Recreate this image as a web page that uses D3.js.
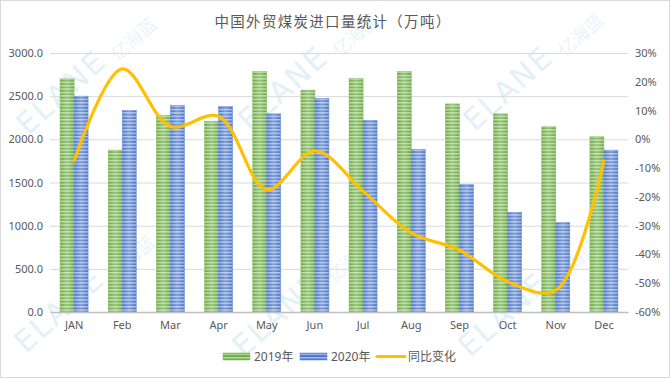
<!DOCTYPE html>
<html><head><meta charset="utf-8">
<script src="https://cdn.jsdelivr.net/npm/d3@7"></script>
<style>body{margin:0;background:#fff}svg{display:block}</style>
</head><body>
<svg id="c" width="670" height="380"></svg>
<script>
const months = ["JAN","Feb","Mar","Apr","May","Jun","Jul","Aug","Sep","Oct","Nov","Dec"];
const series2019 = [2700,1875,2280,2210,2785,2570,2705,2785,2410,2295,2145,2030];
const series2020 = [2500,2335,2395,2380,2295,2475,2220,1885,1475,1155,1035,1875];
const yoyChange = [-7.5,24.5,4.5,8,-17.5,-4,-18,-32.5,-38.5,-49.5,-52.5,-7.5];
const leftTicks = [0,500,1000,1500,2000,2500,3000];
const rightTicks = [-60,-50,-40,-30,-20,-10,0,10,20,30];
const seriesNames = ["2019年","2020年","同比变化"];
const title = "中国外贸煤炭进口量统计（万吨）";

const svg = d3.select("#c");
const W = 670, H = 380;
const m = {l:50, r:628, t:53, b:312};
const txt = "#595959";
const font = "'Noto Sans', 'Noto Sans CJK SC', sans-serif";

// defs
const defs = svg.append("defs");
function stripe(id, base, light){
  const p = defs.append("pattern").attr("id",id).attr("patternUnits","userSpaceOnUse")
    .attr("width",4).attr("height",3.4);
  p.append("rect").attr("width",4).attr("height",3.4).attr("fill",base);
  p.append("rect").attr("width",4).attr("y",0).attr("height",1.4).attr("fill",light);
}
stripe("pg","#6aa943","#b9dca0");
stripe("pb","#4a74c6","#a9bfe8");
const g = defs.append("linearGradient").attr("id","sheen").attr("x1",0).attr("x2",1).attr("y1",0).attr("y2",0);
g.append("stop").attr("offset","0").attr("stop-color","#fff").attr("stop-opacity",0);
g.append("stop").attr("offset","0.5").attr("stop-color","#fff").attr("stop-opacity",0.3);
g.append("stop").attr("offset","1").attr("stop-color","#fff").attr("stop-opacity",0);

// border
svg.append("rect").attr("x",0.5).attr("y",0.5).attr("width",W-1).attr("height",H-3)
  .attr("fill","#fff").attr("stroke","#d9d9d9");

// watermarks (faint)
const wm = svg.append("g").attr("fill","#e2f1f7");
const wmPos = [[68,100],[290,96],[515,96],[66,318],[284,322],[510,322]];
wmPos.forEach(([x,y])=>{
  wm.append("text").attr("transform",`translate(${x},${y}) rotate(-42)`).attr("font-size",30)
    .attr("font-family","'DejaVu Sans', sans-serif").attr("letter-spacing",2)
    .attr("text-anchor","middle").text("ELANE");
  wm.append("text").attr("transform",`translate(${x+70},${y-56}) rotate(-42)`).attr("font-size",18)
    .attr("font-family","'Noto Sans CJK SC'").attr("font-weight",300)
    .attr("text-anchor","middle").text("亿海蓝");
});

const x = d3.scaleBand().domain(months).range([m.l,m.r]).paddingInner(0).paddingOuter(0);
const x1 = d3.scaleBand().domain([0,1]).range([0,x.bandwidth()]).paddingInner(0).paddingOuter(0.72);
const y = d3.scaleLinear().domain([0,3000]).range([m.b,m.t]);
const y2 = d3.scaleLinear().domain([-60,30]).range([m.b,m.t]);

// gridlines
svg.append("g").selectAll("line").data(leftTicks.slice(1)).join("line")
  .attr("x1",m.l).attr("x2",m.r).attr("y1",d=>y(d)+0.5).attr("y2",d=>y(d)+0.5)
  .attr("stroke","#d9d9d9").attr("stroke-width",1);

// left axis
const la = svg.append("g").attr("transform",`translate(${m.l-7},0)`)
  .call(d3.axisLeft(y).tickValues(leftTicks).tickFormat(d3.format(".1f")).tickSize(0).tickPadding(0));
la.select(".domain").remove();
la.selectAll("text").attr("fill",txt).attr("font-size",11).attr("font-family",font);

// right axis
const ra = svg.append("g").attr("transform",`translate(${m.r+7},0)`)
  .call(d3.axisRight(y2).tickValues(rightTicks).tickFormat(d=>d+"%").tickSize(0).tickPadding(0));
ra.select(".domain").remove();
ra.selectAll("text").attr("fill",txt).attr("font-size",11).attr("font-family",font);

// bars
const data = months.map((mo,i)=>({mo, v:[series2019[i],series2020[i]]}));
const grp = svg.append("g").selectAll("g").data(data).join("g")
  .attr("transform",d=>`translate(${x(d.mo)},0)`);
grp.selectAll("rect.b").data(d=>d.v.map((v,k)=>({v,k}))).join("rect").attr("class","b")
  .attr("x",d=>x1(d.k)).attr("width",x1.bandwidth())
  .attr("y",d=>y(d.v)).attr("height",d=>y(0)-y(d.v))
  .attr("fill",d=>d.k===0?"url(#pg)":"url(#pb)")
  .attr("stroke",d=>d.k===0?"#8cc063":"#6f92d6").attr("stroke-width",0.6);
grp.selectAll("rect.s").data(d=>d.v.map((v,k)=>({v,k}))).join("rect").attr("class","s")
  .attr("x",d=>x1(d.k)).attr("width",x1.bandwidth())
  .attr("y",d=>y(d.v)).attr("height",d=>y(0)-y(d.v))
  .attr("fill","url(#sheen)");

// x axis
const xa = svg.append("g").attr("transform",`translate(0,${m.b})`)
  .call(d3.axisBottom(x).tickSize(0).tickPadding(9));
xa.select(".domain").attr("stroke","#bfbfbf").attr("stroke-width",1.5);
xa.selectAll("text").attr("fill",txt).attr("font-size",11).attr("font-family",font);

// line
const line = d3.line().x((d,i)=>x(months[i])+x.bandwidth()/2).y(d=>y2(d)).curve(d3.curveCatmullRom.alpha(0.5));
svg.append("path").datum(yoyChange).attr("d",line).attr("fill","none")
  .attr("stroke","#ffc000").attr("stroke-width",3.2).attr("stroke-linecap","round");

// title
svg.append("text").attr("x",333).attr("y",27).attr("text-anchor","middle")
  .attr("font-family","'Noto Sans CJK SC', sans-serif").attr("font-size",14.5)
  .attr("letter-spacing",1.3).attr("fill",txt).text(title);

// legend
const lg = svg.append("g").attr("font-family",font).attr("font-size",12).attr("fill",txt);
const items = [{x:223, t:seriesNames[0], f:"url(#pg)", s:"#8cc063"},
               {x:300, t:seriesNames[1], f:"url(#pb)", s:"#6f92d6"},
               {x:377, t:seriesNames[2], line:true}];
items.forEach(it=>{
  if(it.line){
    lg.append("line").attr("x1",it.x).attr("x2",it.x+28).attr("y1",356.5).attr("y2",356.5)
      .attr("stroke","#ffc000").attr("stroke-width",3).attr("stroke-linecap","round");
  } else {
    lg.append("rect").attr("x",it.x).attr("y",353).attr("width",27).attr("height",7)
      .attr("fill",it.f).attr("stroke",it.s).attr("stroke-width",0.6);
  }
  lg.append("text").attr("x",it.x+31).attr("y",361).text(it.t);
});
</script>
</body></html>
